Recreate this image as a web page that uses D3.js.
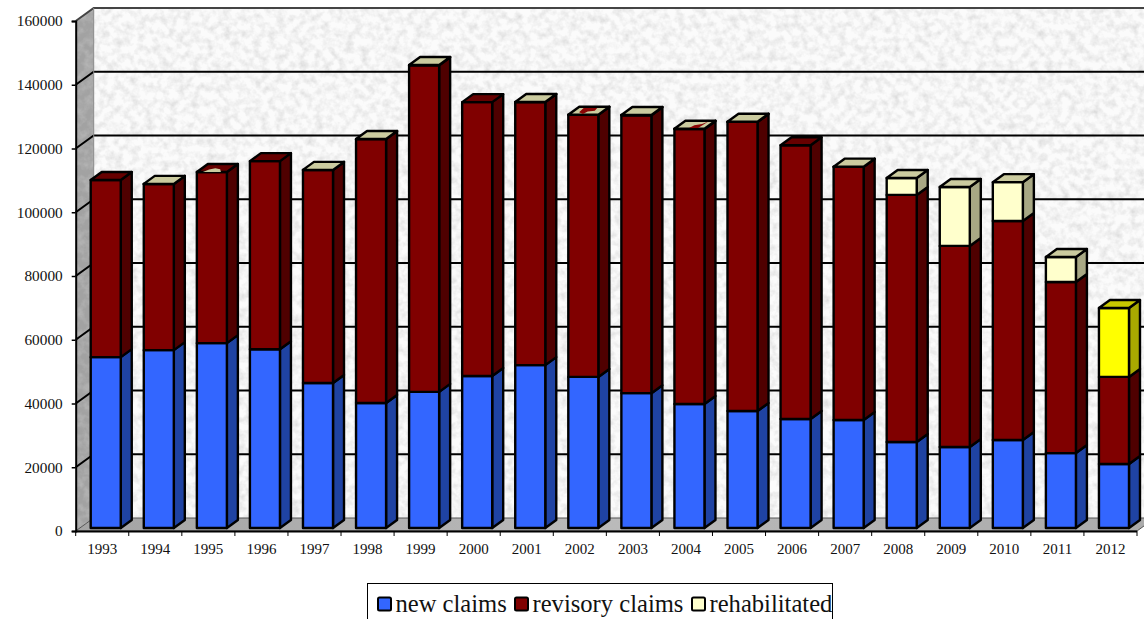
<!DOCTYPE html>
<html>
<head>
  <title>Claims per year</title>
  <script src="https://d3js.org/d3.v7.min.js"></script>
  <style>
    html, body { margin: 0; padding: 0; background: #fff; overflow: hidden; }
    svg { display: block; }
    text { font-family: "Liberation Serif", serif; fill: #111; }
  </style>
</head>
<body>

<div id="chart"></div>

<script>
// Values
const years = ["1993","1994","1995","1996","1997","1998","1999","2000","2001","2002",
               "2003","2004","2005","2006","2007","2008","2009","2010","2011","2012"];
const newClaims = [53600,55800,58000,56100,45500,39200,42700,47700,51100,47400,
                   42300,38900,36700,34200,33900,27000,25400,27600,23500,20100];
const revisoryClaims = [55600,52100,53700,59000,66800,82800,102500,85900,82500,82200,
                        87200,86300,90700,85900,79400,77500,63100,68700,53700,27300];
const rehabilitated = [0,60,0,0,60,60,60,0,60,60,
                       60,60,60,0,60,5300,18500,12200,7800,21600];
const yTicks = [0,20000,40000,60000,80000,100000,120000,140000,160000];
const seriesNames = ["new claims","revisory claims","rehabilitated"];

const width = 1144, height = 619;
const wallDx = 18, wallDy = -13;   // front axis plane -> back wall
const barDx = 11, barDy = -8;      // depth of a bar
const barShiftX = 3.5, barShiftY = -3;

const colors = {
  "new claims": { front: "#3366ff", side: "#1f43a3", top: "#2b55d0" },
  "revisory claims": { front: "#800000", side: "#4f0000", top: "#660000" },
  "rehabilitated": { front: "#ffffcc", side: "#a8a884", top: "#cbcb9f" }
};
const highlight = { front: "#ffff00", side: "#a8a800", top: "#c8c800" }; // last year only

// where the two top faces fight in the original: patches in face units (along width, along depth)
const topPatches = {
  "1995": { series: "rehabilitated", shape: [[.2,0],[.8,0],[.65,.35],[.45,.45],[.3,.3]] },
  "2002": { series: "revisory claims", shape: [[.2,.85],[.65,.85],[.7,.5],[.5,.4],[.45,.1],[.25,.3]] },
  "2004": { series: "revisory claims", shape: [[.45,.1],[.75,.1],[.8,.9],[.7,.6],[.5,.45]] }
};

const x = d3.scaleBand().domain(years).range([75.7, 1137]).paddingInner(23 / 53).paddingOuter(23 / 106);
const y = d3.scaleLinear().domain([0, 160000]).range([531, 21]);

const svg = d3.select("#chart").append("svg").attr("width", width).attr("height", height);
const defs = svg.append("defs");

// speckled paper look of the walls
const f = defs.append("filter").attr("id", "paper").attr("x", 0).attr("y", 0).attr("width", 1).attr("height", 1);
f.append("feTurbulence").attr("type", "fractalNoise").attr("baseFrequency", 0.13).attr("numOctaves", 3).attr("seed", 7);
f.append("feColorMatrix").attr("type", "matrix")
  .attr("values", "0 0 0 0 0.55  0 0 0 0 0.55  0 0 0 0 0.55  1.1 0 0 0 -0.42");
f.append("feComposite").attr("in2", "SourceGraphic").attr("operator", "atop");

const floorGrad = defs.append("linearGradient").attr("id", "floorGrad").attr("x1", 0).attr("x2", 1).attr("y1", 0).attr("y2", 0);
floorGrad.append("stop").attr("offset", "0").attr("stop-color", "#a4a4a4");
floorGrad.append("stop").attr("offset", "0.5").attr("stop-color", "#bababa");
floorGrad.append("stop").attr("offset", "1").attr("stop-color", "#aaaaaa");

const poly = pts => pts.map(p => p.join(",")).join(" ");
const x0 = x.range()[0], x1 = x.range()[1];

// back wall
svg.append("rect")
  .attr("x", x0 + wallDx).attr("y", y(160000) + wallDy)
  .attr("width", width - x0 - wallDx).attr("height", y(0) - y(160000))
  .attr("fill", "#fbfbfb").attr("filter", "url(#paper)");

// left wall
svg.append("polygon")
  .attr("points", poly([[x0, y(0)], [x0, y(160000)], [x0 + wallDx, y(160000) + wallDy], [x0 + wallDx, y(0) + wallDy]]))
  .attr("fill", "#a2a2a2").attr("filter", "url(#paper)");

// floor
svg.append("polygon")
  .attr("points", poly([[x0, y(0)], [x1, y(0)], [x1 + wallDx, y(0) + wallDy], [x0 + wallDx, y(0) + wallDy]]))
  .attr("fill", "url(#floorGrad)").attr("stroke", "#555").attr("stroke-width", 1);

// gridlines, around the corner onto the left wall
svg.append("g").selectAll("polyline").data(yTicks.slice(1)).join("polyline")
  .attr("points", d => poly([[x0, y(d)], [x0 + wallDx, y(d) + wallDy], [width, y(d) + wallDy]]))
  .attr("fill", "none")
  .attr("stroke", d => d === 160000 ? "#444" : "#000")
  .attr("stroke-width", 2);
svg.append("line")
  .attr("x1", x0 + wallDx).attr("x2", x0 + wallDx)
  .attr("y1", y(160000) + wallDy).attr("y2", y(0) + wallDy)
  .attr("stroke", "#8a8a8a").attr("stroke-width", 1);

// stacked bars
const stack = d3.stack().keys(seriesNames)(years.map((yr, i) => ({
  year: yr,
  "new claims": newClaims[i],
  "revisory claims": revisoryClaims[i],
  "rehabilitated": rehabilitated[i]
})));

const barsG = svg.append("g")
  .attr("stroke", "#000").attr("stroke-width", 2.4).attr("stroke-linejoin", "round");
const bw = x.bandwidth();

years.forEach((yr, i) => {
  const g = barsG.append("g").attr("transform", `translate(${x(yr) + barShiftX},${barShiftY})`);
  stack.forEach(layer => {
    const [lo, hi] = layer[i];
    if (hi - lo <= 0) return;
    const c = (layer.key === "rehabilitated" && yr === "2012") ? highlight : colors[layer.key];
    const yHi = y(hi), yLo = y(lo);
    g.append("polygon")
      .attr("points", poly([[bw, yLo], [bw, yHi], [bw + barDx, yHi + barDy], [bw + barDx, yLo + barDy]]))
      .attr("fill", c.side);
    g.append("rect").attr("x", 0).attr("y", yHi).attr("width", bw).attr("height", yLo - yHi)
      .attr("fill", c.front);
  });
  // top face takes the colour of the uppermost non-empty segment
  const topLayer = stack.filter(l => l[i][1] - l[i][0] > 0).pop();
  const c = (topLayer.key === "rehabilitated" && yr === "2012") ? highlight : colors[topLayer.key];
  const yT = y(topLayer[i][1]);
  g.append("polygon")
    .attr("points", poly([[0, yT], [barDx, yT + barDy], [bw + barDx, yT + barDy], [bw, yT]]))
    .attr("fill", c.top);
  const patch = topPatches[yr];
  if (patch) {
    g.append("polygon")
      .attr("points", poly(patch.shape.map(([u, v]) => [u * bw + v * barDx, yT + v * barDy])))
      .attr("fill", patch.series === "rehabilitated" ? colors.rehabilitated.top : "#8a0505")
      .attr("stroke", "none");
  }
});

// axes
const axisY = svg.append("g").attr("transform", `translate(${x0},0)`)
  .call(d3.axisLeft(y).tickValues(yTicks).tickFormat(d3.format("d")).tickSize(4).tickPadding(9));
const axisX = svg.append("g").attr("transform", `translate(0,${y(0)})`)
  .call(d3.axisBottom(x).tickSize(0).tickPadding(12));
axisY.selectAll("text").attr("font-size", 15.3);
axisX.selectAll("text").attr("font-size", 15);
axisY.select(".domain").attr("stroke", "#000").attr("stroke-width", 2);
axisX.select(".domain").attr("d", `M${x0},0.5H${x1}`).attr("stroke", "#000").attr("stroke-width", 2);
axisY.selectAll("line").attr("stroke", "#000").attr("stroke-width", 1.5);

// tick marks sit between the categories
svg.append("g").selectAll("line").data(d3.range(years.length + 1)).join("line")
  .attr("x1", d => x0 + d * x.step()).attr("x2", d => x0 + d * x.step())
  .attr("y1", y(0)).attr("y2", y(0) + 5)
  .attr("stroke", "#000").attr("stroke-width", 1);

// legend
const legend = svg.append("g");
legend.append("rect").attr("x", 367.5).attr("y", 583.5).attr("width", 465).attr("height", 50)
  .attr("fill", "#fff").attr("stroke", "#000").attr("stroke-width", 1);
const legendX = [378, 515, 692];
seriesNames.forEach((name, i) => {
  legend.append("rect").attr("x", legendX[i]).attr("y", 597.5).attr("width", 13).attr("height", 13)
    .attr("rx", 1.5).attr("fill", colors[name].front).attr("stroke", "#000").attr("stroke-width", 2);
  legend.append("text").attr("x", legendX[i] + 17.5).attr("y", 611.5).attr("font-size", 24.6).text(name);
});
</script>

</body>
</html>
